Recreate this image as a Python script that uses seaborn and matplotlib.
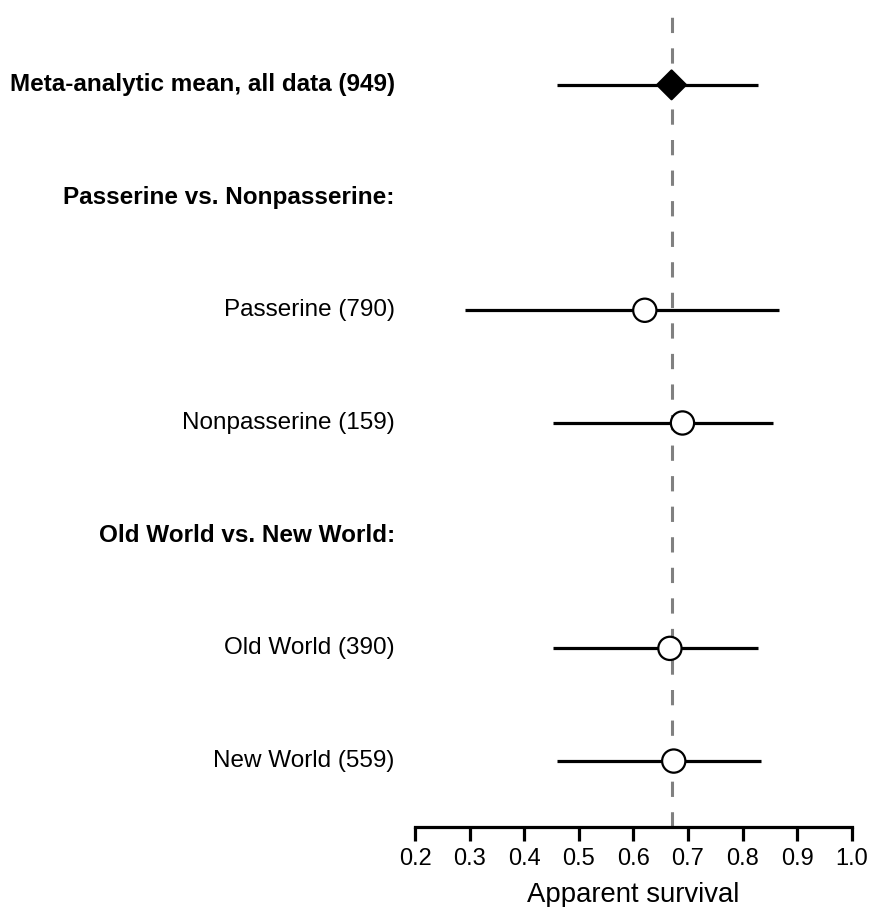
import matplotlib
matplotlib.use("Agg")
import matplotlib.pyplot as plt
import seaborn as sns
import pandas as pd

# Rows from top to bottom
row_labels = [
    "Meta-analytic mean, all data (949)",
    "Passerine vs. Nonpasserine:",
    "Passerine (790)",
    "Nonpasserine (159)",
    "Old World vs. New World:",
    "Old World (390)",
    "New World (559)",
]
row_bold = [True, True, False, False, True, False, False]

# Estimates with lower / upper limits (None for heading rows)
estimate = [0.670, None, 0.621, 0.690, None, 0.667, 0.674]
lower = [0.460, None, 0.292, 0.453, None, 0.452, 0.461]
upper = [0.829, None, 0.867, 0.856, None, 0.829, 0.834]
kind = ["overall", None, "group", "group", None, "group", "group"]

overall_mean = 0.67
x_ticks = [0.2, 0.3, 0.4, 0.5, 0.6, 0.7, 0.8, 0.9, 1.0]

df = pd.DataFrame({
    "label": row_labels,
    "row": range(len(row_labels)),
    "est": estimate,
    "lo": lower,
    "hi": upper,
    "kind": kind,
}).dropna(subset=["est"])

sns.set_theme(style="white")
plt.rcParams["font.family"] = ["Liberation Sans", "DejaVu Sans"]

fig = plt.figure(figsize=(8.69, 9.07), dpi=100)
ax = fig.add_axes([415 / 869, 1 - 827 / 907, (851.7 - 415) / 869, (827 - 15) / 907])

ax.set_xlim(0.2, 1.0)
ax.set_ylim(6.585, -0.62)

# Reference line at the overall mean
ax.axvline(overall_mean, color="#808080", lw=2.2, dashes=(5, 5), zorder=1)

# Confidence intervals
ax.hlines(df["row"], df["lo"], df["hi"], color="black", lw=2.3, zorder=2)

# Point estimates
sns.scatterplot(
    data=df, x="est", y="row", style="kind",
    markers={"overall": "D", "group": "o"},
    hue="kind", palette={"overall": "black", "group": "white"},
    size="kind", sizes={"overall": 215, "group": 280},
    edgecolor="black", linewidth=1.6, legend=False, ax=ax, zorder=3,
)

# Row labels on the left
for i, (lab, bold) in enumerate(zip(row_labels, row_bold)):
    ax.annotate(lab, xy=(0, i), xycoords=("axes fraction", "data"),
                xytext=(-14.5, 0), textcoords="offset points",
                ha="right", va="center", fontsize=17.5,
                fontweight="bold" if bold else "normal", color="black")

for s in ["top", "right", "left"]:
    ax.spines[s].set_visible(False)
ax.spines["bottom"].set_linewidth(2.3)
ax.spines["bottom"].set_color("black")

ax.set_yticks([])
ax.set_xticks(x_ticks)
ax.set_xticklabels([f"{t:.1f}" for t in x_ticks])
ax.tick_params(axis="x", direction="out", length=10, width=2.3, color="black",
               labelsize=17, pad=5, bottom=True, labelcolor="black")
ax.set_xlabel("Apparent survival", fontsize=19.8, labelpad=9, color="black")
ax.set_ylabel("")

fig.savefig("out.png", dpi=100, facecolor="white")
